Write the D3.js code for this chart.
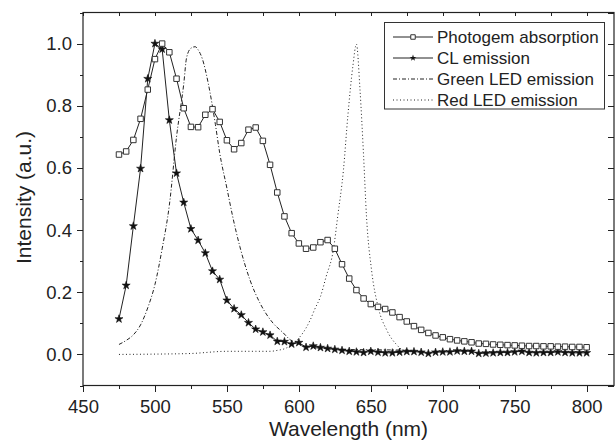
<!DOCTYPE html>
<html lang="en">
<head>
<meta charset="utf-8">
<title>Photogem absorption and emission spectra</title>
<style>
body{
  margin: 0;
  background: #fff;
}
svg text{
  font-family: "Liberation Sans", Arial, sans-serif;
  fill: #222;
}
.axis path{
  display: none;
}
.axis line{
  stroke: #222;
  stroke-width: 1;
  shape-rendering: crispEdges;
}
.axis text{
  font-size: 18.5px;
}
</style>
</head>
<body>
<div id="chart"></div>
<script src="https://d3js.org/d3.v7.min.js"></script>
<script>

// wavelengths (nm) shared by the two marker series
const wavelengths = [475, 480, 485, 490, 495, 500, 505, 510, 515, 520, 525, 530, 535, 540, 545,
  550, 555, 560, 565, 570, 575, 580, 585, 590, 595, 600, 605, 610, 615, 620, 625, 630, 635, 640,
  645, 650, 655, 660, 665, 670, 675, 680, 685, 690, 695, 700, 705, 710, 715, 720, 725, 730, 735,
  740, 745, 750, 755, 760, 765, 770, 775, 780, 785, 790, 795, 800];

const photogem = [0.643, 0.653, 0.690, 0.758, 0.852, 0.950, 1.000, 0.972, 0.887, 0.792, 0.732,
  0.731, 0.771, 0.789, 0.748, 0.689, 0.660, 0.680, 0.723, 0.730, 0.687, 0.610, 0.521, 0.444,
  0.390, 0.357, 0.340, 0.344, 0.361, 0.368, 0.340, 0.290, 0.244, 0.207, 0.180, 0.162, 0.153,
  0.146, 0.135, 0.120, 0.106, 0.091, 0.079, 0.069, 0.061, 0.055, 0.049, 0.045, 0.042, 0.039,
  0.035, 0.034, 0.032, 0.031, 0.030, 0.029, 0.028, 0.027, 0.027, 0.026, 0.026, 0.025, 0.025,
  0.024, 0.024, 0.023];

const clEmission = [0.114, 0.222, 0.413, 0.598, 0.887, 1.000, 0.982, 0.754, 0.583, 0.489, 0.404,
  0.367, 0.326, 0.268, 0.241, 0.174, 0.147, 0.127, 0.102, 0.081, 0.072, 0.062, 0.042, 0.041,
  0.033, 0.038, 0.023, 0.027, 0.022, 0.019, 0.016, 0.013, 0.010, 0.008, 0.006, 0.010, 0.007,
  0.005, 0.005, 0.007, 0.009, 0.009, 0.007, 0.003, 0.007, 0.008, 0.008, 0.011, 0.010, 0.010,
  0.003, 0.004, 0.005, 0.006, 0.006, 0.008, 0.010, 0.006, 0.005, 0.006, 0.006, 0.008, 0.006,
  0.005, 0.005, 0.005];

// LED spectra
const greenX = [475, 480, 485, 490, 495, 500, 505, 510, 515, 520, 522, 525, 528, 530, 533, 537,
  542, 545, 550, 554, 559, 566, 573, 582, 589, 594, 600, 605, 615, 630, 650, 670, 680];
const greenY = [0.032, 0.045, 0.063, 0.095, 0.150, 0.225, 0.340, 0.480, 0.700, 0.870, 0.955,
  0.985, 0.990, 0.980, 0.950, 0.873, 0.740, 0.648, 0.535, 0.444, 0.347, 0.240, 0.165, 0.101,
  0.070, 0.047, 0.035, 0.026, 0.020, 0.016, 0.015, 0.014, 0.013];

const redX = [475, 500, 525, 550, 570, 580, 585, 591, 596, 601, 605, 608, 611, 615, 619, 624,
  627, 631, 634, 637.5, 640, 642.5, 645, 647, 650.5, 655, 661, 668, 672, 680];
const redY = [0.000, 0.001, 0.003, 0.010, 0.010, 0.010, 0.013, 0.020, 0.035, 0.058, 0.085,
  0.112, 0.145, 0.186, 0.251, 0.337, 0.444, 0.594, 0.765, 0.926, 0.998, 0.851, 0.637, 0.444,
  0.272, 0.154, 0.079, 0.031, 0.015, 0.008];

const seriesNames = ["Photogem absorption", "CL emission", "Green LED emission", "Red LED emission"];

const xMajor = [450, 500, 550, 600, 650, 700, 750, 800];
const xMinor = [475, 525, 575, 625, 675, 725, 775];
const yMajor = [0.0, 0.2, 0.4, 0.6, 0.8, 1.0];
const yMinor = [-0.1, 0.1, 0.3, 0.5, 0.7, 0.9, 1.1];

const width = 615;
const height = 442;
const box = { left: 83, right: 614, top: 12.5, bottom: 385.5 };
const ink = "#222";

const svg = d3.select('#chart')
  .append('svg')
  .attr('width', width)
  .attr('height', height);

const x = d3.scaleLinear()
  .domain([450, 819])
  .range([box.left, box.right]);

const y = d3.scaleLinear()
  .domain([-0.1, 1.1])
  .range([box.bottom, box.top]);

// bottom axis, ticks outside
svg.append('g').attr('class', 'axis')
  .attr('transform', 'translate(0,' + box.bottom + ')')
  .call(d3.axisBottom(x).tickValues(xMajor).tickSize(6).tickPadding(8).tickFormat(d3.format('d')));
svg.append('g').attr('class', 'axis')
  .attr('transform', 'translate(0,' + box.bottom + ')')
  .call(d3.axisBottom(x).tickValues(xMinor).tickSize(3).tickFormat(''));

// left axis, ticks outside
svg.append('g').attr('class', 'axis')
  .attr('transform', 'translate(' + box.left + ',0)')
  .call(d3.axisLeft(y).tickValues(yMajor).tickSize(6).tickPadding(5).tickFormat(d3.format('.1f')));
svg.append('g').attr('class', 'axis')
  .attr('transform', 'translate(' + box.left + ',0)')
  .call(d3.axisLeft(y).tickValues(yMinor).tickSize(3).tickFormat(''));

// top and right axes, short ticks inside
svg.append('g').attr('class', 'axis')
  .attr('transform', 'translate(0,' + box.top + ')')
  .call(d3.axisTop(x).tickValues(xMajor.concat(xMinor)).tickSize(-3).tickFormat(''));
svg.append('g').attr('class', 'axis')
  .attr('transform', 'translate(' + box.right + ',0)')
  .call(d3.axisRight(y).tickValues(yMajor.concat(yMinor)).tickSize(-6).tickFormat(''));

// frame
svg.append('rect')
  .attr('x', box.left)
  .attr('y', box.top)
  .attr('width', box.right - box.left)
  .attr('height', box.bottom - box.top)
  .attr('fill', 'none')
  .attr('stroke', ink)
  .attr('stroke-width', 1.2);

const plot = svg.append('g');

const straight = d3.line()
  .x(d => x(d[0]))
  .y(d => y(d[1]));

const smooth = d3.line()
  .x(d => x(d[0]))
  .y(d => y(d[1]))
  .curve(d3.curveMonotoneX);

const greenData = greenX.map((w, i) => [w, greenY[i]]);
const redData = redX.map((w, i) => [w, redY[i]]);
const photoData = wavelengths.map((w, i) => [w, photogem[i]]);
const clData = wavelengths.map((w, i) => [w, clEmission[i]]);

plot.append('path')
  .datum(redData)
  .attr('d', smooth)
  .attr('fill', 'none')
  .attr('stroke', ink)
  .attr('stroke-width', 1)
  .attr('stroke-dasharray', '1,2.5');

plot.append('path')
  .datum(greenData)
  .attr('d', smooth)
  .attr('fill', 'none')
  .attr('stroke', ink)
  .attr('stroke-width', 1)
  .attr('stroke-dasharray', '4,2,1,2');

plot.append('path')
  .datum(clData)
  .attr('d', straight)
  .attr('fill', 'none')
  .attr('stroke', ink)
  .attr('stroke-width', 1);

plot.append('path')
  .datum(photoData)
  .attr('d', straight)
  .attr('fill', 'none')
  .attr('stroke', ink)
  .attr('stroke-width', 1);

const star = d3.symbol().type(d3.symbolStar).size(20);
const square = d3.symbol().type(d3.symbolSquare).size(30);

plot.selectAll('path.cl')
  .data(clData)
  .join('path')
  .attr('class', 'cl')
  .attr('transform', d => 'translate(' + x(d[0]) + ',' + y(d[1]) + ')')
  .attr('d', star)
  .attr('fill', '#111')
  .attr('stroke', '#111')
  .attr('stroke-width', 0.6);

plot.selectAll('path.pg')
  .data(photoData)
  .join('path')
  .attr('class', 'pg')
  .attr('transform', d => 'translate(' + x(d[0]) + ',' + y(d[1]) + ')')
  .attr('d', square)
  .attr('fill', '#fff')
  .attr('stroke', '#333')
  .attr('stroke-width', 1);

// axis titles
svg.append('text')
  .attr('x', (box.left + box.right) / 2)
  .attr('y', 436)
  .attr('text-anchor', 'middle')
  .style('font-size', '21px')
  .text('Wavelength (nm)');

svg.append('text')
  .attr('transform', 'translate(31,197.5) rotate(-90)')
  .attr('text-anchor', 'middle')
  .style('font-size', '21px')
  .text('Intensity (a.u.)');

// legend
const legend = svg.append('g');
legend.append('rect')
  .attr('x', 384.5)
  .attr('y', 22.5)
  .attr('width', 220)
  .attr('height', 86.5)
  .attr('fill', '#fff')
  .attr('stroke', '#333')
  .attr('stroke-width', 1);

const dashes = [null, null, '4,2,1,2', '1,2.5'];
seriesNames.forEach((name, i) => {
  const ly = 37 + i * 21;
  legend.append('line')
    .attr('x1', 393).attr('x2', 433)
    .attr('y1', ly).attr('y2', ly)
    .attr('stroke', ink)
    .attr('stroke-width', 1)
    .attr('stroke-dasharray', dashes[i]);
  if (i === 0) {
    legend.append('path')
      .attr('transform', 'translate(413,' + ly + ')')
      .attr('d', d3.symbol().type(d3.symbolSquare).size(20)())
      .attr('fill', '#fff')
      .attr('stroke', '#333');
  }
  if (i === 1) {
    legend.append('path')
      .attr('transform', 'translate(413,' + ly + ')')
      .attr('d', d3.symbol().type(d3.symbolStar).size(14)())
      .attr('fill', '#111');
  }
  legend.append('text')
    .attr('x', 437)
    .attr('y', ly)
    .attr('dy', '0.36em')
    .style('font-size', '17px')
    .text(name);
});

</script>
</body>
</html>
